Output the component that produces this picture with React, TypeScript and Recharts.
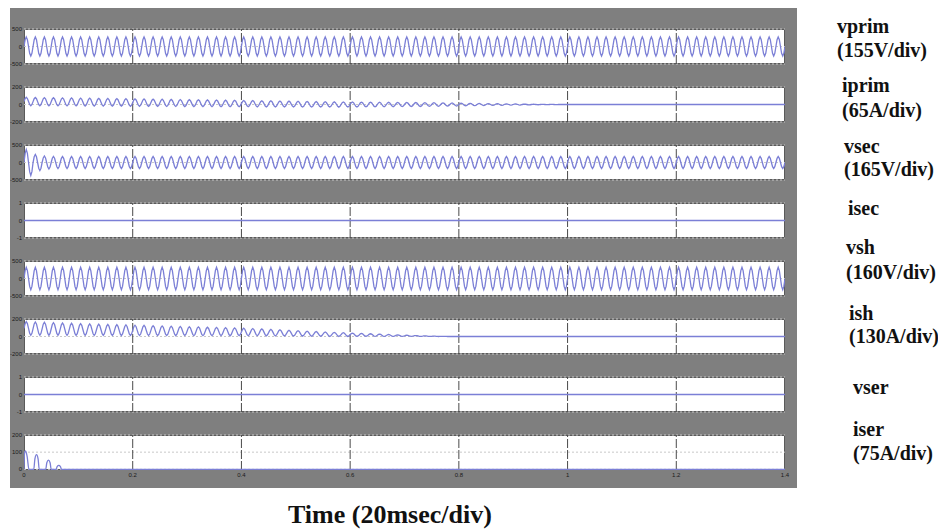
import React from "react";
import { LineChart, Line, XAxis, YAxis, ReferenceLine } from "recharts";

// time axis (s)
const X_TICKS = [0, 0.2, 0.4, 0.6, 0.8, 1, 1.2, 1.4];

// one 60 Hz cycle, 8 samples
const CYCLE_SHAPE = [0, 0.71, 1, 0.71, 0, -0.71, -1, -0.71];
const CYCLES_PER_SEC = 60;

// peak value of every cycle, one row per 0.2 s division (12 cycles)
const VPRIM_AMP = [
  275, 275, 275, 275, 275, 275, 275, 275, 275, 275, 275, 275,
  275, 275, 275, 275, 275, 275, 275, 275, 275, 275, 275, 275,
  275, 275, 275, 275, 275, 275, 275, 275, 275, 275, 275, 275,
  275, 275, 275, 275, 275, 275, 275, 275, 275, 275, 275, 275,
  275, 275, 275, 275, 275, 275, 275, 275, 275, 275, 275, 275,
  275, 275, 275, 275, 275, 275, 275, 275, 275, 275, 275, 275,
  275, 275, 275, 275, 275, 275, 275, 275, 275, 275, 275, 275,
];

const IPRIM_AMP = [
  48, 47, 47, 46, 46, 45, 45, 45, 44, 44, 43, 43,
  42, 42, 41, 41, 40, 40, 39, 39, 38, 38, 37, 37,
  36, 36, 35, 35, 34, 33, 33, 32, 31, 30, 30, 29,
  28, 27, 27, 26, 25, 24, 23, 22, 21, 20, 19, 17,
  15, 13, 12, 10, 9, 7, 6, 4, 3, 2, 1, 0,
  0, 0, 0, 0, 0, 0, 0, 0, 0, 0, 0, 0,
  0, 0, 0, 0, 0, 0, 0, 0, 0, 0, 0, 0,
];
const IPRIM_OFFSET = [
  34, 33, 32, 31, 30, 29, 28, 27, 26, 25, 24, 23,
  22, 21, 20, 19, 18, 17, 16, 15, 14, 13, 12, 11,
  10, 9, 8, 7, 6, 5, 4, 3, 2, 1, 0, 0,
  0, 0, 0, 0, 0, 0, 0, 0, 0, 0, 0, 0,
  0, 0, 0, 0, 0, 0, 0, 0, 0, 0, 0, 0,
  0, 0, 0, 0, 0, 0, 0, 0, 0, 0, 0, 0,
  0, 0, 0, 0, 0, 0, 0, 0, 0, 0, 0, 0,
];

const VSEC_AMP = [
  370, 230, 185, 172, 170, 170, 170, 170, 170, 170, 170, 170,
  170, 170, 170, 170, 170, 170, 170, 170, 170, 170, 170, 170,
  170, 170, 170, 170, 170, 170, 170, 170, 170, 170, 170, 170,
  170, 170, 170, 170, 170, 170, 170, 170, 170, 170, 170, 170,
  170, 170, 170, 170, 170, 170, 170, 170, 170, 170, 170, 170,
  170, 170, 170, 170, 170, 170, 170, 170, 170, 170, 170, 170,
  170, 170, 170, 170, 170, 170, 170, 170, 170, 170, 170, 170,
];

const VSH_AMP = [
  320, 320, 320, 320, 320, 320, 320, 320, 320, 320, 320, 320,
  320, 320, 320, 320, 320, 320, 320, 320, 320, 320, 320, 320,
  320, 320, 320, 320, 320, 320, 320, 320, 320, 320, 320, 320,
  320, 320, 320, 320, 320, 320, 320, 320, 320, 320, 320, 320,
  320, 320, 320, 320, 320, 320, 320, 320, 320, 320, 320, 320,
  320, 320, 320, 320, 320, 320, 320, 320, 320, 320, 320, 320,
  320, 320, 320, 320, 320, 320, 320, 320, 320, 320, 320, 320,
];

const ISH_AMP = [
  78, 76, 74, 72, 70, 69, 67, 66, 64, 63, 62, 60,
  59, 58, 56, 55, 54, 52, 51, 50, 48, 47, 46, 44,
  43, 41, 39, 37, 35, 33, 31, 29, 27, 25, 23, 21,
  19, 17, 15, 13, 11, 9, 7, 5, 3, 2, 1, 0,
  0, 0, 0, 0, 0, 0, 0, 0, 0, 0, 0, 0,
  0, 0, 0, 0, 0, 0, 0, 0, 0, 0, 0, 0,
  0, 0, 0, 0, 0, 0, 0, 0, 0, 0, 0, 0,
];
const ISH_OFFSET = [
  92, 90, 88, 86, 84, 82, 80, 78, 77, 75, 73, 72,
  70, 69, 67, 66, 64, 63, 61, 60, 58, 57, 55, 54,
  52, 50, 47, 44, 41, 38, 35, 32, 29, 26, 24, 22,
  20, 18, 16, 14, 12, 10, 8, 6, 4, 2, 1, 0,
  0, 0, 0, 0, 0, 0, 0, 0, 0, 0, 0, 0,
  0, 0, 0, 0, 0, 0, 0, 0, 0, 0, 0, 0,
  0, 0, 0, 0, 0, 0, 0, 0, 0, 0, 0, 0,
];

// flat traces
const FLAT_T = [0, 1.4];
const FLAT_V = [0, 0];

// iser: a few decaying humps at the start, then zero
const ISER_T = [0, 0.001, 0.003, 0.006, 0.009, 0.018, 0.02, 0.023, 0.026, 0.028, 0.04, 0.042, 0.045, 0.048, 0.05, 0.059, 0.061, 0.064, 0.067, 0.069, 1.4];
const ISER_V = [0, 95, 108, 70, 0, 0, 60, 86, 60, 0, 0, 38, 53, 38, 0, 0, 16, 23, 16, 0, 0];

function buildWave(amp: number[], offset?: number[]) {
  const pts: { t: number; v: number }[] = [];
  amp.forEach((a, k) => {
    const o = offset ? offset[k] : 0;
    CYCLE_SHAPE.forEach((s, j) => {
      pts.push({ t: (k + j / CYCLE_SHAPE.length) / CYCLES_PER_SEC, v: o + a * s });
    });
  });
  pts.push({ t: amp.length / CYCLES_PER_SEC, v: offset ? offset[offset.length - 1] : 0 });
  return pts;
}

function zipPoints(ts: number[], vs: number[]) {
  return ts.map((t, i) => ({ t, v: vs[i] }));
}

const PANELS = [
  { key: "vprim", data: buildWave(VPRIM_AMP), domain: [-500, 500], ticks: [-500, 0, 500] },
  { key: "iprim", data: buildWave(IPRIM_AMP, IPRIM_OFFSET), domain: [-200, 200], ticks: [-200, 0, 200] },
  { key: "vsec", data: buildWave(VSEC_AMP), domain: [-500, 500], ticks: [-500, 0, 500] },
  { key: "isec", data: zipPoints(FLAT_T, FLAT_V), domain: [-1, 1], ticks: [-1, 0, 1] },
  { key: "vsh", data: buildWave(VSH_AMP), domain: [-500, 500], ticks: [-500, 0, 500] },
  { key: "ish", data: buildWave(ISH_AMP, ISH_OFFSET), domain: [-200, 200], ticks: [-200, 0, 200] },
  { key: "vser", data: zipPoints(FLAT_T, FLAT_V), domain: [-1, 1], ticks: [-1, 0, 1] },
  { key: "iser", data: zipPoints(ISER_T, ISER_V), domain: [-4, 200], ticks: [0, 100, 200] },
];

const LABELS = [
  { text: "vprim", x: 837, y: 33 },
  { text: "(155V/div)", x: 837, y: 57 },
  { text: "iprim", x: 842, y: 92 },
  { text: "(65A/div)", x: 842, y: 117 },
  { text: "vsec", x: 844, y: 153 },
  { text: "(165V/div)", x: 844, y: 176 },
  { text: "isec", x: 848, y: 215 },
  { text: "vsh", x: 846, y: 254 },
  { text: "(160V/div)", x: 846, y: 279 },
  { text: "ish", x: 849, y: 320 },
  { text: "(130A/div)", x: 849, y: 343 },
  { text: "vser", x: 853, y: 394 },
  { text: "iser", x: 853, y: 436 },
  { text: "(75A/div)", x: 853, y: 460 },
];

const PANEL_TOPS = [29, 87, 145, 203, 261, 319, 377, 435];
const PLOT_LEFT = 24;
const PLOT_W = 761;
const PLOT_H = 35;
const Y_AXIS_W = 14;
const TRACE = "#7b7fd6";
const TICK_FONT = { fontSize: 6, fill: "#1a1a1a", fontFamily: "Liberation Sans" };

export default function App() {
  return (
    <div style={{ position: "absolute", left: 0, top: 0, width: 938, height: 529, background: "#fff", overflow: "hidden" }}>
      {/* scope background */}
      <div style={{ position: "absolute", left: 10, top: 8, width: 787, height: 480, background: "#7f7f7f" }} />

      {PANELS.map((p, i) => {
        const last = i === PANELS.length - 1;
        const top = PANEL_TOPS[i];
        return (
          <React.Fragment key={p.key}>
            <div
              style={{
                position: "absolute",
                left: PLOT_LEFT,
                top,
                width: PLOT_W,
                height: PLOT_H,
                background: "#fff",
                boxSizing: "border-box",
                border: "1px solid #5a5a5a",
              }}
            />
            <div style={{ position: "absolute", left: PLOT_LEFT - Y_AXIS_W, top: top - 6 }}>
              <LineChart
                width={Y_AXIS_W + PLOT_W + 12}
                height={6 + PLOT_H + (last ? 14 : 6)}
                data={p.data}
                margin={{ top: 6, right: 12, left: 0, bottom: last ? 0 : 6 }}
              >
                <XAxis
                  dataKey="t"
                  type="number"
                  domain={[0, 1.4]}
                  ticks={X_TICKS}
                  hide={!last}
                  height={14}
                  axisLine={false}
                  tickLine={false}
                  tickSize={0}
                  tickMargin={3}
                  interval={0}
                  tick={TICK_FONT}
                  allowDataOverflow
                />
                <YAxis
                  type="number"
                  domain={p.domain}
                  ticks={p.ticks}
                  width={Y_AXIS_W}
                  axisLine={false}
                  tickLine={false}
                  tickSize={0}
                  tickMargin={2}
                  interval={0}
                  tick={TICK_FONT}
                  allowDataOverflow
                />
                {p.ticks.map((v) => (
                  <ReferenceLine key={"h" + v} y={v} stroke="#c8c8c8" strokeDasharray="2 2" />
                ))}
                {X_TICKS.slice(1, -1).map((v) => (
                  <ReferenceLine key={"v" + v} x={v} stroke="#4a4a4a" strokeDasharray="9 2" />
                ))}
                <Line
                  dataKey="v"
                  type={p.key === "iser" ? "monotone" : "linear"}
                  stroke={TRACE}
                  strokeWidth={1.3}
                  dot={false}
                  isAnimationActive={false}
                />
              </LineChart>
            </div>
          </React.Fragment>
        );
      })}

      <svg width={938} height={529} style={{ position: "absolute", left: 0, top: 0, pointerEvents: "none" }}>
        {LABELS.map((l) => (
          <text
            key={l.text}
            x={l.x}
            y={l.y}
            fontFamily="Liberation Serif"
            fontWeight="bold"
            fontSize={20}
            fill="#111"
          >
            {l.text}
          </text>
        ))}
        <text x={288} y={523} fontFamily="Liberation Serif" fontWeight="bold" fontSize={26} fill="#111">
          Time (20msec/div)
        </text>
      </svg>
    </div>
  );
}
